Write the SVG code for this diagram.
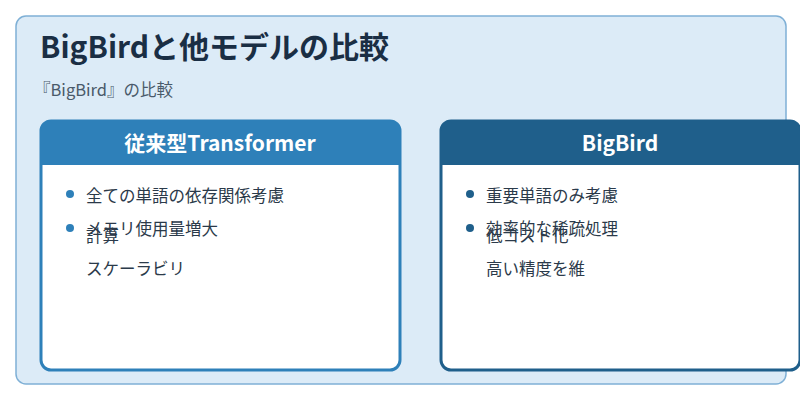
<svg xmlns="http://www.w3.org/2000/svg" width="800" height="400" viewBox="0 0 800 400">
<style>
text{font-family:"Noto Sans CJK JP","Noto Sans",sans-serif}
.t{font-size:16.5px;fill:#2b3a4a}
.h{font-size:21px;font-weight:bold;fill:#fff}
</style>
<rect x="16" y="16" width="770" height="368" rx="10" fill="#dcebf7" stroke="#7fb0d6" stroke-width="1.5"/>
<text x="40" y="58" font-size="30" font-weight="bold" fill="#1a2e44">BigBirdと他モデルの比較</text>
<text x="34" y="96" font-size="16.5" fill="#4a5a6a">『BigBird』の比較</text>
<g id="left">
<rect x="41" y="121" width="359" height="249" rx="10" fill="#fff" stroke="#2e80b9" stroke-width="3"/>
<path d="M41 165V131a10 10 0 0 1 10-10h339a10 10 0 0 1 10 10v34z" fill="#2e80b9"/>
<text x="220" y="151" text-anchor="middle" class="h">従来型Transformer</text>
<circle cx="70" cy="194" r="4" fill="#2e80b9"/>
<circle cx="70" cy="228" r="4" fill="#2e80b9"/>
<text x="86" y="202" class="t">全ての単語の依存関係考慮</text>
<text x="86" y="235" class="t">メモリ使用量増大</text>
<text x="86" y="242" class="t">計算</text>
<text x="86" y="275" class="t">スケーラビリ</text>
</g>
<g id="right">
<rect x="441" y="121" width="359" height="249" rx="10" fill="#fff" stroke="#1f5f8b" stroke-width="3"/>
<path d="M441 165V131a10 10 0 0 1 10-10h339a10 10 0 0 1 10 10v34z" fill="#1f5f8b"/>
<text x="620" y="151" text-anchor="middle" class="h">BigBird</text>
<circle cx="470" cy="194" r="4" fill="#1f5f8b"/>
<circle cx="470" cy="228" r="4" fill="#1f5f8b"/>
<text x="486" y="202" class="t">重要単語のみ考慮</text>
<text x="486" y="235" class="t">効率的な稀疏処理</text>
<text x="486" y="242" class="t">低コスト化</text>
<text x="486" y="275" class="t">高い精度を維</text>
</g>
<g id="connectors"/>
</svg>
